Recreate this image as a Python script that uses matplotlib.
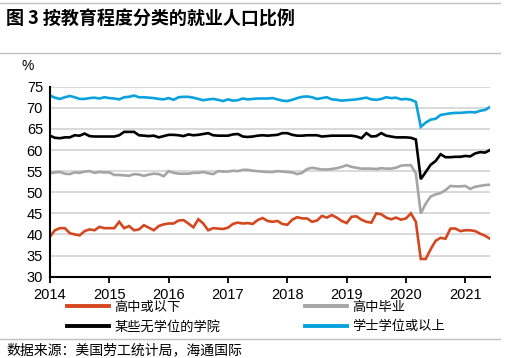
import numpy as np
import pandas as pd
import matplotlib
matplotlib.use("Agg")
import matplotlib.pyplot as plt
from matplotlib.lines import Line2D

plt.rcParams['font.family'] = ['Liberation Sans', 'Noto Sans CJK SC', 'DejaVu Sans']
CJK = ['Noto Sans CJK SC', 'DejaVu Sans']

# monthly data, Jan 2014 - Jun 2021
months = pd.date_range('2014-01-01', periods=90, freq='MS')
years = ['2014', '2015', '2016', '2017', '2018', '2019', '2020', '2021']
series_names = ['高中或以下', '某些无学位的学院', '高中毕业', '学士学位或以上']

below_hs = [39.5, 41.0, 41.5, 41.5, 40.3, 40.0, 39.8, 40.8, 41.2, 41.0, 41.8, 41.5,
            41.5, 41.5, 43.0, 41.5, 42.0, 41.0, 41.2, 42.2, 41.6, 41.0, 42.0, 42.4,
            42.6, 42.6, 43.3, 43.4, 42.6, 41.7, 43.6, 42.6, 41.0, 41.5, 41.4, 41.3,
            41.6, 42.5, 42.8, 42.6, 42.7, 42.5, 43.4, 43.9, 43.2, 43.0, 43.2, 42.5,
            42.3, 43.5, 44.1, 43.8, 43.8, 43.0, 43.3, 44.4, 44.0, 44.6, 44.0, 43.2,
            42.7, 44.2, 44.3, 43.5, 43.0, 42.8, 45.0, 44.8, 44.0, 43.6, 44.0, 43.5,
            43.8, 45.0, 43.0, 34.2, 34.2, 36.5, 38.5, 39.2, 39.0, 41.4, 41.4, 40.8,
            41.0, 41.0, 40.8, 40.2, 39.7, 39.0]

hs_grad = [54.5, 54.7, 54.8, 54.4, 54.3, 54.7, 54.6, 54.9, 55.0, 54.6, 54.8, 54.7,
           54.7, 54.1, 54.1, 54.0, 53.9, 54.3, 54.2, 53.9, 54.2, 54.4, 54.3, 53.8,
           55.0, 54.6, 54.4, 54.4, 54.4, 54.6, 54.6, 54.8, 54.5, 54.3, 55.0, 54.9,
           54.9, 55.1, 55.0, 55.3, 55.3, 55.1, 55.0, 54.9, 54.8, 54.8, 55.0, 54.9,
           54.8, 54.7, 54.3, 54.6, 55.5, 55.8, 55.6, 55.4, 55.4, 55.5, 55.7, 56.0,
           56.4, 56.0, 55.8, 55.6, 55.6, 55.6, 55.5, 55.7, 55.6, 55.6, 55.8, 56.3,
           56.4, 56.4, 54.5, 45.0, 47.3, 49.0, 49.5, 49.8, 50.5, 51.5, 51.4, 51.4,
           51.5, 50.8, 51.3, 51.5, 51.7, 51.8]

some_college = [63.4, 62.9, 62.8, 63.0, 63.0, 63.5, 63.4, 63.9, 63.3, 63.2, 63.2, 63.2,
                63.2, 63.2, 63.5, 64.3, 64.3, 64.3, 63.5, 63.4, 63.3, 63.4, 63.0, 63.3,
                63.6, 63.6, 63.5, 63.3, 63.7, 63.5, 63.6, 63.8, 64.0, 63.5, 63.4, 63.4,
                63.4, 63.7, 63.8, 63.2, 63.1, 63.2, 63.4, 63.5, 63.4, 63.5, 63.6, 64.0,
                64.0, 63.6, 63.4, 63.4, 63.5, 63.5, 63.5, 63.2, 63.3, 63.4, 63.4, 63.4,
                63.4, 63.4, 63.2, 62.8, 64.0, 63.2, 63.3, 64.0, 63.4, 63.2, 63.0, 63.0,
                63.0, 62.9, 62.5, 53.1, 54.8, 56.5, 57.4, 59.0, 58.3, 58.3, 58.4, 58.4,
                58.6, 58.5, 59.2, 59.5, 59.4, 60.0]

bachelor = [72.9, 72.4, 72.1, 72.5, 72.8, 72.5, 72.1, 72.1, 72.3, 72.4, 72.2, 72.5,
            72.3, 72.2, 72.0, 72.5, 72.6, 72.9, 72.5, 72.5, 72.4, 72.3, 72.1, 72.0,
            72.3, 71.9, 72.5, 72.6, 72.6, 72.4, 72.1, 71.8, 72.0, 72.1, 71.9, 71.6,
            72.0, 71.7, 71.8, 72.2, 72.0, 72.1, 72.2, 72.2, 72.2, 72.3, 72.0, 71.7,
            71.6, 71.9, 72.3, 72.6, 72.7, 72.5, 72.1, 72.3, 72.5, 72.0, 71.9, 71.7,
            71.8, 71.9, 72.0, 72.2, 72.4, 72.0, 71.9, 72.1, 72.5, 72.3, 72.4, 72.0,
            72.1, 71.9, 71.4, 65.5, 66.5, 67.2, 67.4, 68.3, 68.5, 68.7, 68.8, 68.8,
            68.9, 69.0, 68.9, 69.3, 69.5, 70.2]

colors = ['#D4471F', '#000000', '#A5A5A5', '#0AA2DE']

fig = plt.figure(figsize=(5.08, 3.58), dpi=100)
ax = fig.add_axes([50/508, 1 - 276.7/358, 440/508, 190/358])

x = np.arange(len(months))
for vals, c in zip([below_hs, some_college, hs_grad, bachelor], colors):
    ax.plot(x, vals, color=c, lw=1.9, solid_joinstyle='miter')

ax.set_xlim(0, len(months) - 1)
ax.set_ylim(30, 75)
ax.set_yticks(np.arange(30, 76, 5))
for yv in range(35, 76, 5):
    ax.axhline(yv, color='#D9D9D9', lw=1.4, zorder=0)

jan_idx = [i for i, m in enumerate(months) if m.month == 1]
ax.set_xticks(jan_idx)
ax.set_xticklabels(years)
ax.tick_params(axis='x', length=4, width=1.3, direction='out', pad=4, labelsize=10.5)
ax.tick_params(axis='y', length=0, pad=5, labelsize=10.5)

for s in ['top', 'right']:
    ax.spines[s].set_visible(False)
ax.spines['left'].set_linewidth(1.5)
ax.spines['bottom'].set_linewidth(1.5)

fig.text(28/508, 1 - 66/358, '%', fontsize=10, ha='center', va='center')

handles = [Line2D([], [], color=c, lw=2.8) for c in colors]
fig.legend(handles, series_names,
           ncol=2, loc='upper left', bbox_to_anchor=(55/508, 1 - 289/358),
           frameon=False, prop={'family': CJK, 'size': 9.5},
           handlelength=3.2, handletextpad=0.4, columnspacing=6.4,
           labelspacing=0.5)

fig.text(6/508, 1 - 19/358, '图 3 按教育程度分类的就业人口比例', fontsize=13,
         fontweight='bold', family=CJK, ha='left', va='center')
fig.text(6/508, 1 - 350/358, '数据来源：美国劳工统计局，海通国际', fontsize=10,
         style='italic', family=CJK, ha='left', va='center')

fig.add_artist(Line2D([0, 500/508], [1 - 3/358, 1 - 3/358], color='#C0C0C0', lw=1.0))
fig.add_artist(Line2D([0, 500/508], [1 - 53/358, 1 - 53/358], color='#C0C0C0', lw=1.0))
fig.add_artist(Line2D([0, 500/508], [1 - 339/358, 1 - 339/358], color='#C0C0C0', lw=1.0))

fig.savefig('out.png', dpi=100)
